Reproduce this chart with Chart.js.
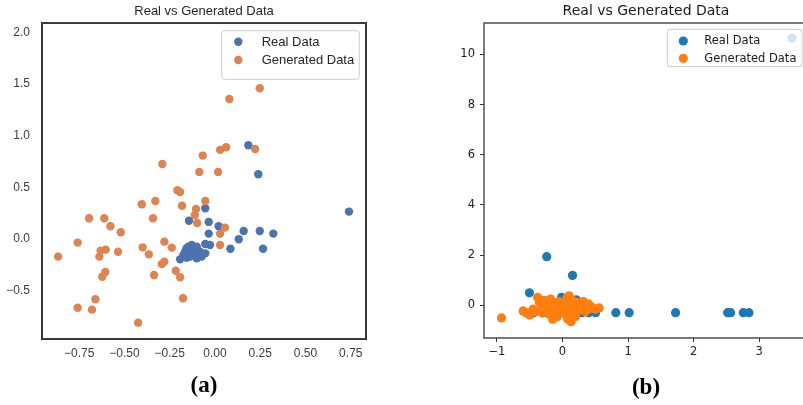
<!DOCTYPE html>
<html>
<head>
<meta charset="utf-8">
<script src="https://cdn.jsdelivr.net/npm/chart.js@4/dist/chart.umd.min.js"></script>
<style>
  html, body { margin: 0; padding: 0; background: #fff; overflow: hidden; width: 803px; height: 405px; position: relative; }
  canvas { position: absolute; top: 0; }
  #chartA { left: 0; }
  #chartB { left: 420px; }
</style>
</head>
<body>
<canvas id="chartA" width="420" height="405"></canvas>
<canvas id="chartB" width="420" height="405"></canvas>
<script>
// ---- Panel (a): real vs generated samples ----
const realAX = [0.184, 0.239, -0.054, -0.144, -0.035, 0.020, -0.035, 0.158, 0.247, 0.322, 0.131, 0.740,
  -0.054, -0.028, 0.085, 0.265, -0.054, -0.129, -0.101, -0.157, -0.129, -0.083, -0.175, -0.138, -0.101,
  -0.193, -0.157, -0.120, -0.166, -0.074, -0.148];
const realAY = [0.907, 0.626, 0.297, 0.177, 0.165, 0.123, 0.052, 0.077, 0.077, 0.052, -0.003, 0.265,
  -0.048, -0.058, -0.094, -0.094, -0.139, -0.058, -0.074, -0.090, -0.106, -0.123, -0.155, -0.171, -0.187,
  -0.197, -0.181, -0.145, -0.123, -0.171, -0.074];
const genAX = [0.247, 0.079, 0.221, 0.061, 0.028, -0.068, -0.291, -0.087, 0.017, -0.208, -0.193, -0.405,
  -0.330, -0.182, -0.054, -0.105, -0.112, -0.696, -0.612, -0.343, -0.099, -0.578, 0.055, -0.521, 0.028,
  -0.759, -0.280, -0.867, -0.632, -0.604, -0.536, -0.400, -0.239, -0.366, -0.639, 0.028, -0.294, -0.280,
  -0.217, -0.193, -0.606, -0.623, -0.337, -0.661, -0.759, -0.680, -0.177, -0.425];
const genAY = [1.459, 1.355, 0.871, 0.888, 0.862, 0.807, 0.726, 0.649, 0.649, 0.471, 0.455, 0.336,
  0.368, 0.322, 0.368, 0.290, 0.232, 0.200, 0.200, 0.200, 0.155, 0.123, 0.110, 0.065, 0.052,
  -0.035, -0.026, -0.171, -0.113, -0.103, -0.123, -0.081, -0.084, -0.149, -0.171, -0.058, -0.242, -0.219,
  -0.307, -0.371, -0.319, -0.365, -0.349, -0.584, -0.665, -0.684, -0.574, -0.810];

// ---- Panel (b): real vs generated samples ----
const realBX = [3.50, -0.24, 0.153, -0.504, 0.814, 1.017, 1.725, 2.519, 2.565, 2.758, 2.844, 0.504,
  -0.015, 0.21, -0.45, -0.30, -0.20, 0.05, 0.17, 0.30, 0.40];
const realBY = [10.65, 1.94, 1.195, 0.50, -0.29, -0.29, -0.29, -0.29, -0.29, -0.29, -0.29, -0.29,
  0.32, 0.22, -0.30, -0.29, -0.29, -0.29, -0.29, -0.29, -0.29];
const genBX = [-0.93, -0.55, -0.50, -0.45, -0.40, -0.38, -0.35, -0.32, -0.30, -0.28, -0.25, -0.22, -0.20,
  -0.18, -0.15, -0.12, -0.10, -0.08, -0.05, -0.03, 0.00, 0.02, 0.05, 0.07, 0.08, 0.10, 0.10, 0.12, 0.13,
  0.15, 0.17, 0.18, 0.20, 0.22, 0.25, 0.27, 0.30, 0.32, 0.35, 0.37, 0.40, 0.42, 0.45, 0.50, 0.56, -0.60, -0.15];
const genBY = [-0.50, -0.30, -0.38, -0.15, -0.25, 0.32, 0.10, -0.05, -0.30, 0.20, -0.10, 0.05, -0.35,
  0.25, -0.20, 0.10, -0.05, -0.45, 0.15, -0.25, -0.10, 0.05, -0.35, 0.30, -0.55, 0.38, 0.10, -0.15, -0.65,
  0.20, -0.30, 0.00, -0.45, 0.12, -0.20, 0.05, -0.10, 0.15, -0.25, -0.05, 0.05, -0.12, -0.08, -0.15, -0.10, -0.22, -0.55];

const seriesLabels = ['Real Data', 'Generated Data'];
const titleText = 'Real vs Generated Data';

const toPoints = (xs, ys) => xs.map((x, i) => ({ x, y: ys[i] }));
const fmt = (v, d) => {
  const s = Math.abs(v).toFixed(d);
  return (v < 0 && Math.abs(v) > 1e-9 ? '\u2212' : '') + s;
};

// Draws the axes frame and an in-plot legend box (top right).
const frameLegend = {
  id: 'frameLegend',
  afterDatasetsDraw(chart, args, o) {
    const { ctx, chartArea: a } = chart;
    ctx.save();
    ctx.strokeStyle = o.frameColor;
    ctx.lineWidth = o.frameWidth;
    ctx.strokeRect(a.left, a.top, a.right - a.left, a.bottom - a.top);

    const L = o.legend;
    const x = a.right - L.inset - L.width;
    const y = a.top + L.top;
    ctx.beginPath();
    ctx.roundRect(x, y, L.width, L.height, 3);
    ctx.fillStyle = 'rgba(255,255,255,0.8)';
    ctx.fill();
    ctx.lineWidth = 1;
    ctx.strokeStyle = '#cccccc';
    ctx.stroke();

    ctx.font = L.font;
    ctx.textBaseline = 'middle';
    ctx.textAlign = 'left';
    chart.data.datasets.forEach((ds, i) => {
      const cy = y + L.first + i * L.gap;
      ctx.beginPath();
      ctx.arc(x + L.markX, cy, ds.pointRadius, 0, Math.PI * 2);
      ctx.fillStyle = ds.backgroundColor;
      ctx.fill();
      ctx.fillStyle = L.color;
      ctx.fillText(ds.label, x + L.textX, cy + 0.5);
    });
    ctx.restore();
  }
};

Chart.defaults.devicePixelRatio = 1;

// Panel (a)
new Chart(document.getElementById('chartA'), {
  type: 'scatter',
  data: {
    datasets: [
      { label: seriesLabels[0], data: toPoints(realAX, realAY), backgroundColor: '#4c72b0',
        pointRadius: 4.2, pointBorderWidth: 0, borderWidth: 0, order: 1 },
      { label: seriesLabels[1], data: toPoints(genAX, genAY), backgroundColor: '#dd8452',
        pointRadius: 4.2, pointBorderWidth: 0, borderWidth: 0, order: 0 }
    ]
  },
  options: {
    responsive: false, animation: false, devicePixelRatio: 1,
    layout: { padding: { left: 0, right: 54, top: 0, bottom: 0 } },
    plugins: {
      legend: { display: false },
      tooltip: { enabled: false },
      title: { display: true, text: titleText, fullSize: false, color: '#262626',
        font: { family: 'Liberation Sans', size: 13, weight: 'normal' }, padding: { top: 3.9, bottom: 3.5 } },
      frameLegend: {
        frameColor: '#3b3b3b', frameWidth: 2,
        legend: { inset: 6.7, top: 7.7, width: 137.6, height: 48.6, first: 11, gap: 18.3,
          markX: 16.6, textX: 40, font: '13px "Liberation Sans"', color: '#262626' }
      }
    },
    scales: {
      x: {
        type: 'linear', min: -0.956, max: 0.834,
        afterFit: s => { s.height = 66; },
        grid: { display: false, drawTicks: false }, border: { display: false },
        ticks: { stepSize: 0.25, includeBounds: false, autoSkip: false, maxRotation: 0, padding: 7,
          color: '#3c3c3c', font: { family: 'Liberation Sans', size: 12 }, callback: v => fmt(v, 2) },
        title: { display: true, text: '(a)', color: '#000',
          font: { family: 'Liberation Serif', size: 23, weight: 'bold' }, padding: { top: 0, bottom: 5 } }
      },
      y: {
        type: 'linear', min: -0.968, max: 2.09,
        afterFit: s => { s.width = 42; },
        grid: { display: false, drawTicks: false }, border: { display: false },
        ticks: { stepSize: 0.5, includeBounds: false, autoSkip: false, padding: 12,
          color: '#3c3c3c', font: { family: 'Liberation Sans', size: 12 }, callback: v => fmt(v, 1) }
      }
    }
  },
  plugins: [frameLegend]
});

// Panel (b)
new Chart(document.getElementById('chartB'), {
  type: 'scatter',
  data: {
    datasets: [
      { label: seriesLabels[0], data: toPoints(realBX, realBY), backgroundColor: '#1f77b4',
        pointRadius: 4.6, pointBorderWidth: 0, borderWidth: 0, order: 1 },
      { label: seriesLabels[1], data: toPoints(genBX, genBY), backgroundColor: '#ff7f0e',
        pointRadius: 4.6, pointBorderWidth: 0, borderWidth: 0, order: 0 }
    ]
  },
  options: {
    responsive: false, animation: false, devicePixelRatio: 1,
    layout: { padding: { left: 0, right: 32, top: 0, bottom: 0 } },
    plugins: {
      legend: { display: false },
      tooltip: { enabled: false },
      title: { display: true, text: titleText, fullSize: false, color: '#1a1a1a',
        font: { family: 'DejaVu Sans', size: 14, weight: 'normal' }, padding: { top: 3.1, bottom: 3.1 } },
      frameLegend: {
        frameColor: '#333333', frameWidth: 1.3,
        legend: { inset: 6, top: 6.3, width: 134.7, height: 37.4, first: 11.7, gap: 17.3,
          markX: 16, textX: 37, font: '11.5px "DejaVu Sans"', color: '#1a1a1a' }
      }
    },
    scales: {
      x: {
        type: 'linear', min: -1.197, max: 3.745,
        afterFit: s => { s.height = 67; },
        grid: { display: true, drawOnChartArea: false, drawTicks: true, tickLength: 4, color: '#333', lineWidth: 1 },
        border: { display: false },
        ticks: { stepSize: 1, includeBounds: false, autoSkip: false, maxRotation: 0, padding: 3,
          color: '#222', font: { family: 'DejaVu Sans', size: 11.5 }, callback: v => fmt(v, 0) },
        title: { display: true, text: '(b)', color: '#000',
          font: { family: 'Liberation Serif', size: 23, weight: 'bold' }, padding: { top: 0, bottom: 3.5 } }
      },
      y: {
        type: 'linear', min: -1.30, max: 11.25,
        afterFit: s => { s.width = 64; },
        grid: { display: true, drawOnChartArea: false, drawTicks: true, tickLength: 4, color: '#333', lineWidth: 1 },
        border: { display: false },
        ticks: { stepSize: 2, includeBounds: false, autoSkip: false, padding: 5,
          color: '#222', font: { family: 'DejaVu Sans', size: 11.5 }, callback: v => fmt(v, 0) }
      }
    }
  },
  plugins: [frameLegend]
});
</script>
</body>
</html>
